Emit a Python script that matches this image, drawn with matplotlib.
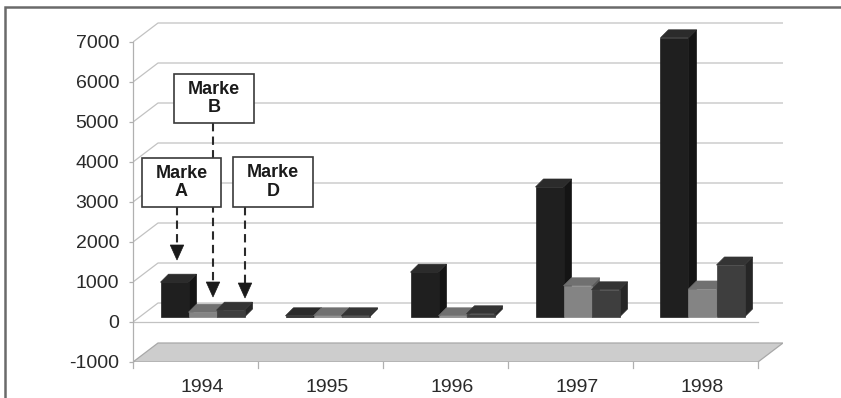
import matplotlib
matplotlib.use("Agg")
import matplotlib.pyplot as plt
from matplotlib.patches import Polygon, Rectangle

plt.rcParams['font.family'] = ['Liberation Sans', 'DejaVu Sans']

# data
years = ['1994', '1995', '1996', '1997', '1998']
series = ['Marke A', 'Marke B', 'Marke D']
marke_a = [870, 30, 1120, 3250, 6980]
marke_b = [120, 30, 30, 780, 700]
marke_d = [170, 30, 80, 680, 1300]
yticks = [-1000, 0, 1000, 2000, 3000, 4000, 5000, 6000, 7000]

# face colours per series: front, top, side
faces = [('#1f1f1f', '#2b2b2b', '#141414'),
         ('#848484', '#707070', '#5a5a5a'),
         ('#3e3e3e', '#343434', '#262626')]

# pseudo 3d geometry (category units / value units)
PX = 25.0                 # value units per pixel
WX, WY = 0.2, 19 * PX     # depth of the whole plot
BX0, BY0 = 0.056, 5 * PX  # bars' front plane offset
BDX, BDY = 0.064, 8 * PX  # bar depth
BW = 0.224                # bar width
GAP = (1 - 3 * BW) / 2

fig = plt.figure(figsize=(8.41, 3.98), dpi=100)
ax = fig.add_axes([133 / 841, 36 / 398, 650 / 841, 340 / 398])
ax.set_xlim(0, 5.2)
ax.set_ylim(-1000, 7500)
for s in ['top', 'right', 'bottom']:
    ax.spines[s].set_visible(False)
ax.spines['left'].set_bounds(-1000, 7000)
ax.spines['left'].set_color('#b0b0b0')
ax.spines['left'].set_linewidth(0.9)
ax.set_xticks([])
ax.set_yticks(yticks)
ax.set_yticklabels([str(v) for v in yticks], fontsize=14, color='#2a2a2a')
ax.tick_params(axis='y', length=3, width=0.9, color='#b0b0b0', pad=7)

n = len(years)
grid_c = '#c2c2c2'
# back wall gridlines with the diagonal on the side wall
for v in yticks[1:]:
    ax.plot([0, WX, n + WX], [v, v + WY, v + WY], color=grid_c, lw=0.9, zorder=1)
# front baseline
ax.plot([0, n], [0, 0], color=grid_c, lw=0.9, zorder=1)

# floor
floor = Polygon([(0, -1000), (n, -1000), (n + WX, -1000 + WY), (WX, -1000 + WY)],
                closed=True, facecolor='#cdcdcd', edgecolor='#a8a8a8', lw=0.9, zorder=1)
ax.add_patch(floor)
for i in range(n + 1):
    ax.plot([i, i], [-1000, -1000 - 6 * PX], color='#b0b0b0', lw=0.9, clip_on=False)

# category labels
for i, y in enumerate(years):
    ax.text(i + 0.5 + BX0, -1000 - 25 * PX, y, ha='center', va='center',
            fontsize=14, color='#2a2a2a')

# bars
for i in range(n):
    for s, vals in enumerate([marke_a, marke_b, marke_d]):
        v = vals[i]
        x0 = i + GAP + s * BW + BX0
        y0 = BY0
        fc, tc, sc = faces[s]
        z = 3 + s
        ax.add_patch(Polygon([(x0 + BW, y0), (x0 + BW + BDX, y0 + BDY),
                              (x0 + BW + BDX, y0 + v + BDY), (x0 + BW, y0 + v)],
                             closed=True, facecolor=sc, edgecolor=sc, lw=0.5, zorder=z))
        ax.add_patch(Polygon([(x0, y0 + v), (x0 + BW, y0 + v),
                              (x0 + BW + BDX, y0 + v + BDY), (x0 + BDX, y0 + v + BDY)],
                             closed=True, facecolor=tc, edgecolor=tc, lw=0.5, zorder=z))
        ax.add_patch(Rectangle((x0, y0), BW, v, facecolor=fc, edgecolor=fc,
                               lw=0.5, zorder=z))

# callouts: label, box (x0, x1, y0, y1), arrow x, arrow tip
callouts = [('Marke\nA', (0.072, 0.704, 2875, 4100), 0.352, 1550, 12),
            ('Marke\nB', (0.328, 0.968, 4975, 6200), 0.640, 625, 10),
            ('Marke\nD', (0.800, 1.440, 2875, 4125), 0.896, 600, 12)]
for label, (bx0, bx1, by0, by1), ax_x, tip, zb in callouts:
    ax.add_patch(Rectangle((bx0, by0), bx1 - bx0, by1 - by0, facecolor='white',
                           edgecolor='#3a3a3a', lw=1.2, zorder=zb))
    ax.text((bx0 + bx1) / 2, (by0 + by1) / 2, label, ha='center', va='center',
            fontsize=13, fontweight='bold', color='#1a1a1a', linespacing=1.15,
            zorder=zb + 1)
    head = 15 * PX
    ax.plot([ax_x, ax_x], [by0, tip + head], color='#2a2a2a', lw=1.5,
            dashes=(4, 2.5), zorder=9)
    ax.add_patch(Polygon([(ax_x, tip), (ax_x - 0.054, tip + head), (ax_x + 0.054, tip + head)],
                         closed=True, facecolor='#1a1a1a', edgecolor='#1a1a1a',
                         lw=0.5, zorder=9))

# outer frame
fig.patches.append(Rectangle((5 / 841, -0.1), 1.2, (398 - 7) / 398 + 0.1,
                             transform=fig.transFigure, fill=False,
                             edgecolor='#6a6a6a', lw=1.8))

fig.savefig('out.png', dpi=100)
